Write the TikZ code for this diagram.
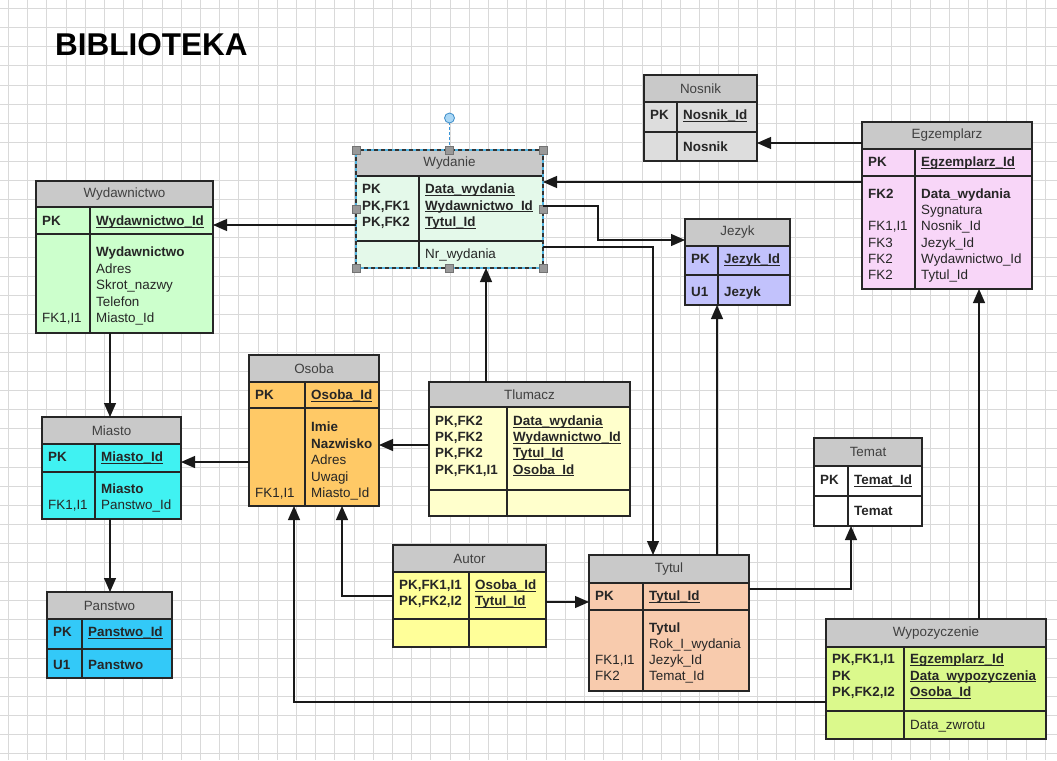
\documentclass[tikz,border=0pt]{standalone}
\usepackage{fontspec}
\setmainfont{Liberation Sans}
\usetikzlibrary{arrows.meta}
\definecolor{glowa}{HTML}{C9C9C9}
\definecolor{cWydawnictwo}{HTML}{CCFFCC}
\definecolor{cWydanie}{HTML}{E4F9EA}
\definecolor{cNosnik}{HTML}{DDDDDD}
\definecolor{cEgzemplarz}{HTML}{F8D6F8}
\definecolor{cJezyk}{HTML}{C2C2FC}
\definecolor{cOsoba}{HTML}{FFC966}
\definecolor{cTlumacz}{HTML}{FFFFCC}
\definecolor{cMiasto}{HTML}{40F2F2}
\definecolor{cPanstwo}{HTML}{33C9F8}
\definecolor{cAutor}{HTML}{FFFF99}
\definecolor{cTytul}{HTML}{F8CBAD}
\definecolor{cTemat}{HTML}{FFFFFF}
\definecolor{cWypozyczenie}{HTML}{DBF98C}
\newcount\wiersznr
% klucz glowny: pogrubiony i podkreslony
\newcommand{\pkey}[1]{\sbox0{\bfseries #1}\rlap{\rule[-2.3pt]{\wd0}{1pt}}\usebox0}
% encja: nazwa, kolor, lewa, podzial, prawa, gora, dol naglowka, dol PK, dol
\newcommand{\encja}[9]{%
\node[tabela,fill=#2,minimum width={#5-#3},minimum height={#9-#6}] (#1) at ({(#3+#5)/2},{(#6+#9)/2}) {};
\fill[glowa] (#1.north west) rectangle (#5,#7);
\draw[krawedz] (#3,#7)--(#5,#7) (#3,#8)--(#5,#8) (#4,#7)--(#4,#9);
\draw[krawedz] (#1.north west) rectangle (#1.south east);
\node[naglowek] (#1-nazwa) at ({(#3+#5)/2},{(#6+#7)/2}) {#1};
\gdef\encN{#1}\gdef\kx{#3}\gdef\fx{#4}\global\wiersznr=0 }
\newcommand{\wiersz}[3]{%
\global\advance\wiersznr by 1
\node[pole] (\encN-k\the\wiersznr) at (\kx+6,#1) {#2};
\node[pole] (\encN-f\the\wiersznr) at (\fx+6,#1) {#3};}
\tikzset{tabela/.style={draw=black!85,line width=1.4pt,inner sep=0pt,outer sep=0pt},
krawedz/.style={draw=black!85,line width=1.4pt},
naglowek/.style={text=black!75,font=\fontsize{13.4}{15}\selectfont,inner sep=0pt},
pole/.style={anchor=base west,inner sep=0pt,text=black!85,font=\fontsize{13.4}{15}\selectfont},
siatka/.style={draw=black!15,line width=0.6pt},
uchwyt/.style={fill=black!40,draw=black!55,line width=0.6pt},
fk/.style={->,line width=1.2pt,draw=black!90}}
\begin{document}
\begin{tikzpicture}[x=1pt,y=-1pt,>={Triangle[length=14pt,width=12pt]}]
\useasboundingbox (0,0) rectangle (1057,760);
\fill[white] (0,0) rectangle (1057,760);
\foreach \i in {0,...,54} \draw[siatka] (8.3+19.2*\i,0)--(8.3+19.2*\i,760);
\foreach \j in {0,...,39} \draw[siatka] (0,8.5+19.1*\j)--(1057,8.5+19.1*\j);
\node[anchor=base west,inner sep=0pt,font=\fontsize{31.5}{32}\selectfont\bfseries] (tytul) at (55,56) {BIBLIOTEKA};
% tabele
\encja{Wydawnictwo}{cWydawnictwo}{36}{90}{213}{181}{207}{234}{333}
\wiersz{225.5}{\textbf{PK}}{\pkey{Wydawnictwo\_Id}}
\wiersz{256.5}{}{\textbf{Wydawnictwo}}
\wiersz{273}{}{Adres}
\wiersz{289.5}{}{Skrot\_nazwy}
\wiersz{306}{}{Telefon}
\wiersz{322}{FK1,I1}{Miasto\_Id}
\encja{Wydanie}{cWydanie}{356}{419}{543}{150}{176}{241}{268}
\wiersz{193.5}{\textbf{PK}}{\pkey{Data\_wydania}}
\wiersz{210}{\textbf{PK,FK1}}{\pkey{Wydawnictwo\_Id}}
\wiersz{226.5}{\textbf{PK,FK2}}{\pkey{Tytul\_Id}}
\wiersz{258.5}{}{Nr\_wydania}
\encja{Nosnik}{cNosnik}{644}{677}{757}{75}{102}{132}{161}
\wiersz{119.5}{\textbf{PK}}{\pkey{Nosnik\_Id}}
\wiersz{151.5}{}{\textbf{Nosnik}}
\encja{Egzemplarz}{cEgzemplarz}{862}{915}{1032}{122}{149}{176}{289}
\wiersz{166.5}{\textbf{PK}}{\pkey{Egzemplarz\_Id}}
\wiersz{198.5}{\textbf{FK2}}{\textbf{Data\_wydania}}
\wiersz{214.7}{}{Sygnatura}
\wiersz{230.9}{FK1,I1}{Nosnik\_Id}
\wiersz{247.1}{FK3}{Jezyk\_Id}
\wiersz{263.3}{FK2}{Wydawnictwo\_Id}
\wiersz{279.5}{FK2}{Tytul\_Id}
\encja{Jezyk}{cJezyk}{685}{718}{790}{219}{246}{275}{305}
\wiersz{263.5}{\textbf{PK}}{\pkey{Jezyk\_Id}}
\wiersz{296}{\textbf{U1}}{\textbf{Jezyk}}
\encja{Osoba}{cOsoba}{249}{305}{379}{355}{382}{408}{506}
\wiersz{399.5}{\textbf{PK}}{\pkey{Osoba\_Id}}
\wiersz{431.5}{}{\textbf{Imie}}
\wiersz{448}{}{\textbf{Nazwisko}}
\wiersz{464.5}{}{Adres}
\wiersz{481}{}{Uwagi}
\wiersz{497}{FK1,I1}{Miasto\_Id}
\encja{Tlumacz}{cTlumacz}{429}{507}{630}{382}{407}{490}{516}
\wiersz{425.5}{\textbf{PK,FK2}}{\pkey{Data\_wydania}}
\wiersz{441.7}{\textbf{PK,FK2}}{\pkey{Wydawnictwo\_Id}}
\wiersz{457.9}{\textbf{PK,FK2}}{\pkey{Tytul\_Id}}
\wiersz{474}{\textbf{PK,FK1,I1}}{\pkey{Osoba\_Id}}
\encja{Miasto}{cMiasto}{42}{95}{181}{417}{444}{472}{519}
\wiersz{461.5}{\textbf{PK}}{\pkey{Miasto\_Id}}
\wiersz{493.5}{}{\textbf{Miasto}}
\wiersz{509.5}{FK1,I1}{Panstwo\_Id}
\encja{Panstwo}{cPanstwo}{47}{82}{172}{592}{619}{649}{678}
\wiersz{636.5}{\textbf{PK}}{\pkey{Panstwo\_Id}}
\wiersz{669}{\textbf{U1}}{\textbf{Panstwo}}
\encja{Autor}{cAutor}{393}{469}{546}{545}{572}{619}{647}
\wiersz{589.5}{\textbf{PK,FK1,I1}}{\pkey{Osoba\_Id}}
\wiersz{605.5}{\textbf{PK,FK2,I2}}{\pkey{Tytul\_Id}}
\encja{Tytul}{cTytul}{589}{643}{749}{555}{583}{610}{691}
\wiersz{600.5}{\textbf{PK}}{\pkey{Tytul\_Id}}
\wiersz{632.5}{}{\textbf{Tytul}}
\wiersz{648.5}{}{Rok\_I\_wydania}
\wiersz{664.5}{FK1,I1}{Jezyk\_Id}
\wiersz{680.5}{FK2}{Temat\_Id}
\encja{Temat}{cTemat}{814}{848}{922}{438}{466}{496}{526}
\wiersz{484.5}{\textbf{PK}}{\pkey{Temat\_Id}}
\wiersz{515.5}{}{\textbf{Temat}}
\encja{Wypozyczenie}{cWypozyczenie}{826}{904}{1046}{619}{647}{711}{739}
\wiersz{663.5}{\textbf{PK,FK1,I1}}{\pkey{Egzemplarz\_Id}}
\wiersz{680}{\textbf{PK}}{\pkey{Data\_wypozyczenia}}
\wiersz{696.5}{\textbf{PK,FK2,I2}}{\pkey{Osoba\_Id}}
\wiersz{729.5}{}{Data\_zwrotu}
% zaznaczenie tabeli Wydanie
\draw[line width=1.2pt,draw={rgb,255:red,80;green,180;blue,225}] (Wydanie.north west) rectangle (Wydanie.south east);
\draw[line width=1.2pt,draw=black!80,dash pattern=on 4pt off 3pt] (Wydanie.north west) rectangle (Wydanie.south east);
\draw[line width=0.9pt,draw={rgb,255:red,60;green,150;blue,215},dash pattern=on 3pt off 2pt] (Wydanie.north)--++(0,-27);
\filldraw[fill={rgb,255:red,170;green,215;blue,245},draw={rgb,255:red,60;green,140;blue,200},line width=0.8pt] (Wydanie.north)++(0,-32) circle (5);
\foreach \a in {north west,north,north east,west,east,south west,south,south east}
  \filldraw[uchwyt] (Wydanie.\a)++(-4,-4) rectangle ++(8,8);
% relacje
\draw[fk] (Wydanie.west |- 0,225)--(Wydawnictwo.east |- 0,225);
\draw[fk] (110,0 |- Wydawnictwo.south)--(110,0 |- Miasto.north);
\draw[fk] (Osoba.west |- 0,462)--(Miasto.east |- 0,462);
\draw[fk] (110,0 |- Miasto.south)--(110,0 |- Panstwo.north);
\draw[fk] (486,0 |- Tlumacz.north)--(486,0 |- Wydanie.south);
\draw[fk] (Tlumacz.west |- 0,445)--(Osoba.east |- 0,445);
\draw[fk] (Autor.west |- 0,596)-|(342,0 |- Osoba.south);
\draw[fk] (Autor.east |- 0,602)--(Tytul.west |- 0,602);
\draw[fk] (Wypozyczenie.west |- 0,702)-|(294,0 |- Osoba.south);
\draw[fk] (979,0 |- Wypozyczenie.north)--(979,0 |- Egzemplarz.south);
\draw[fk] (717,0 |- Tytul.north)--(717,0 |- Jezyk.south);
\draw[fk] (Tytul.east |- 0,589)-|(851,0 |- Temat.south);
\draw[fk] (Wydanie.east |- 0,206)--(598,206)|-(Jezyk.west |- 0,240);
\draw[fk] (Wydanie.east |- 0,247)-|(653,0 |- Tytul.north);
\draw[fk] (Egzemplarz.west |- 0,182)--(Wydanie.east |- 0,182);
\draw[fk] (Egzemplarz.west |- 0,143)--(Nosnik.east |- 0,143);
\end{tikzpicture}
\end{document}
